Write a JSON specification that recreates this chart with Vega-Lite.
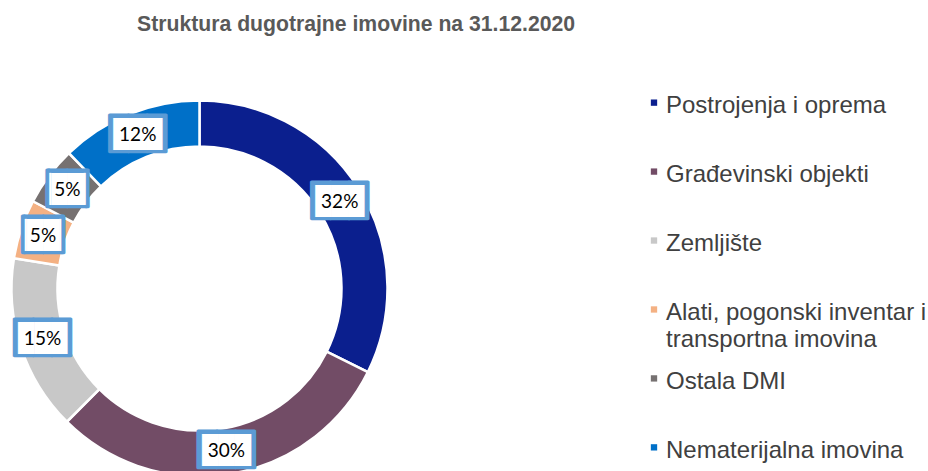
{
  "$schema": "https://vega.github.io/schema/vega-lite/v6.json",
  "background": "white",
  "padding": {"top": 13, "left": 0, "right": 0, "bottom": 0},
  "title": {
    "text": "Struktura dugotrajne imovine na 31.12.2020",
    "font": "Liberation Sans",
    "fontSize": 21.2,
    "fontWeight": "bold",
    "color": "#595959",
    "anchor": "middle",
    "dx": -107,
    "offset": 10
  },
  "config": {"view": {"stroke": null}},
  "datasets": {
    "assets": [
      {"category": "Postrojenja i oprema", "share": 0.323},
      {"category": "Građevinski objekti", "share": 0.301},
      {"category": "Zemljište", "share": 0.151},
      {"category": "Alati, pogonski inventar i\ntransportna imovina", "share": 0.051},
      {"category": "Ostala DMI", "share": 0.051},
      {"category": "Nematerijalna imovina", "share": 0.122}
    ]
  },
  "spacing": 245,
  "hconcat": [
    {
      "width": 399,
      "height": 487,
      "data": {"name": "assets"},
      "transform": [{"window": [{"op": "row_number", "as": "idx"}]}],
      "encoding": {
        "theta": {"field": "share", "type": "quantitative", "stack": true},
        "order": {"field": "idx", "type": "quantitative"}
      },
      "layer": [
        {
          "mark": {"type": "arc", "outerRadius": 188, "innerRadius": 142, "stroke": "white", "strokeWidth": 2.5},
          "encoding": {
            "color": {
              "field": "category",
              "type": "nominal",
              "scale": {
                "domain": ["Postrojenja i oprema", "Građevinski objekti", "Zemljište", "Alati, pogonski inventar i\ntransportna imovina", "Ostala DMI", "Nematerijalna imovina"],
                "range": ["#0B1F8E", "#724C66", "#C8C8C8", "#F4B183", "#767171", "#0070C8"]
              },
              "legend": null
            }
          }
        },
        {
          "mark": {"type": "text", "radius": 165, "font": "DejaVu Sans Mono", "fontSize": 31, "color": "#5B9BD5", "stroke": "#5B9BD5", "strokeWidth": 3, "strokeJoin": "round", "baseline": "middle", "align": "center"},
          "encoding": {
            "detail": {"field": "category", "type": "nominal"},
            "text": {"condition": {"test": "datum.share < 0.1", "value": "▕██▏"}, "value": "███"}
          }
        },
        {
          "mark": {"type": "text", "radius": 165, "font": "DejaVu Sans Mono", "fontSize": 27, "color": "white", "baseline": "middle", "align": "center"},
          "encoding": {
            "detail": {"field": "category", "type": "nominal"},
            "text": {"condition": {"test": "datum.share < 0.1", "value": "▕██▏"}, "value": "███"}
          }
        },
        {
          "mark": {"type": "text", "radius": 165, "font": "Lato", "fontSize": 19, "color": "black", "baseline": "middle", "align": "center"},
          "encoding": {
            "detail": {"field": "category", "type": "nominal"},
            "text": {"field": "share", "type": "quantitative", "format": ".0%"}
          }
        }
      ]
    },
    {
      "width": 20,
      "height": 460,
      "data": {"name": "assets"},
      "encoding": {
        "y": {"field": "category", "type": "nominal", "sort": null, "scale": {"type": "point", "padding": 0.836}, "axis": null}
      },
      "layer": [
        {
          "mark": {"type": "point", "shape": "square", "filled": true, "size": 40, "opacity": 1},
          "encoding": {
            "color": {
              "field": "category",
              "type": "nominal",
              "scale": {
                "domain": ["Postrojenja i oprema", "Građevinski objekti", "Zemljište", "Alati, pogonski inventar i\ntransportna imovina", "Ostala DMI", "Nematerijalna imovina"],
                "range": ["#0B1F8E", "#724C66", "#C8C8C8", "#F4B183", "#767171", "#0070C8"]
              },
              "legend": null
            }
          }
        },
        {
          "mark": {"type": "text", "align": "left", "baseline": "top", "dx": 12, "dy": -8.6, "font": "Liberation Sans", "fontSize": 24, "color": "#404040", "lineBreak": "\n", "lineHeight": 27},
          "encoding": {"text": {"field": "category", "type": "nominal"}}
        }
      ]
    }
  ]
}
